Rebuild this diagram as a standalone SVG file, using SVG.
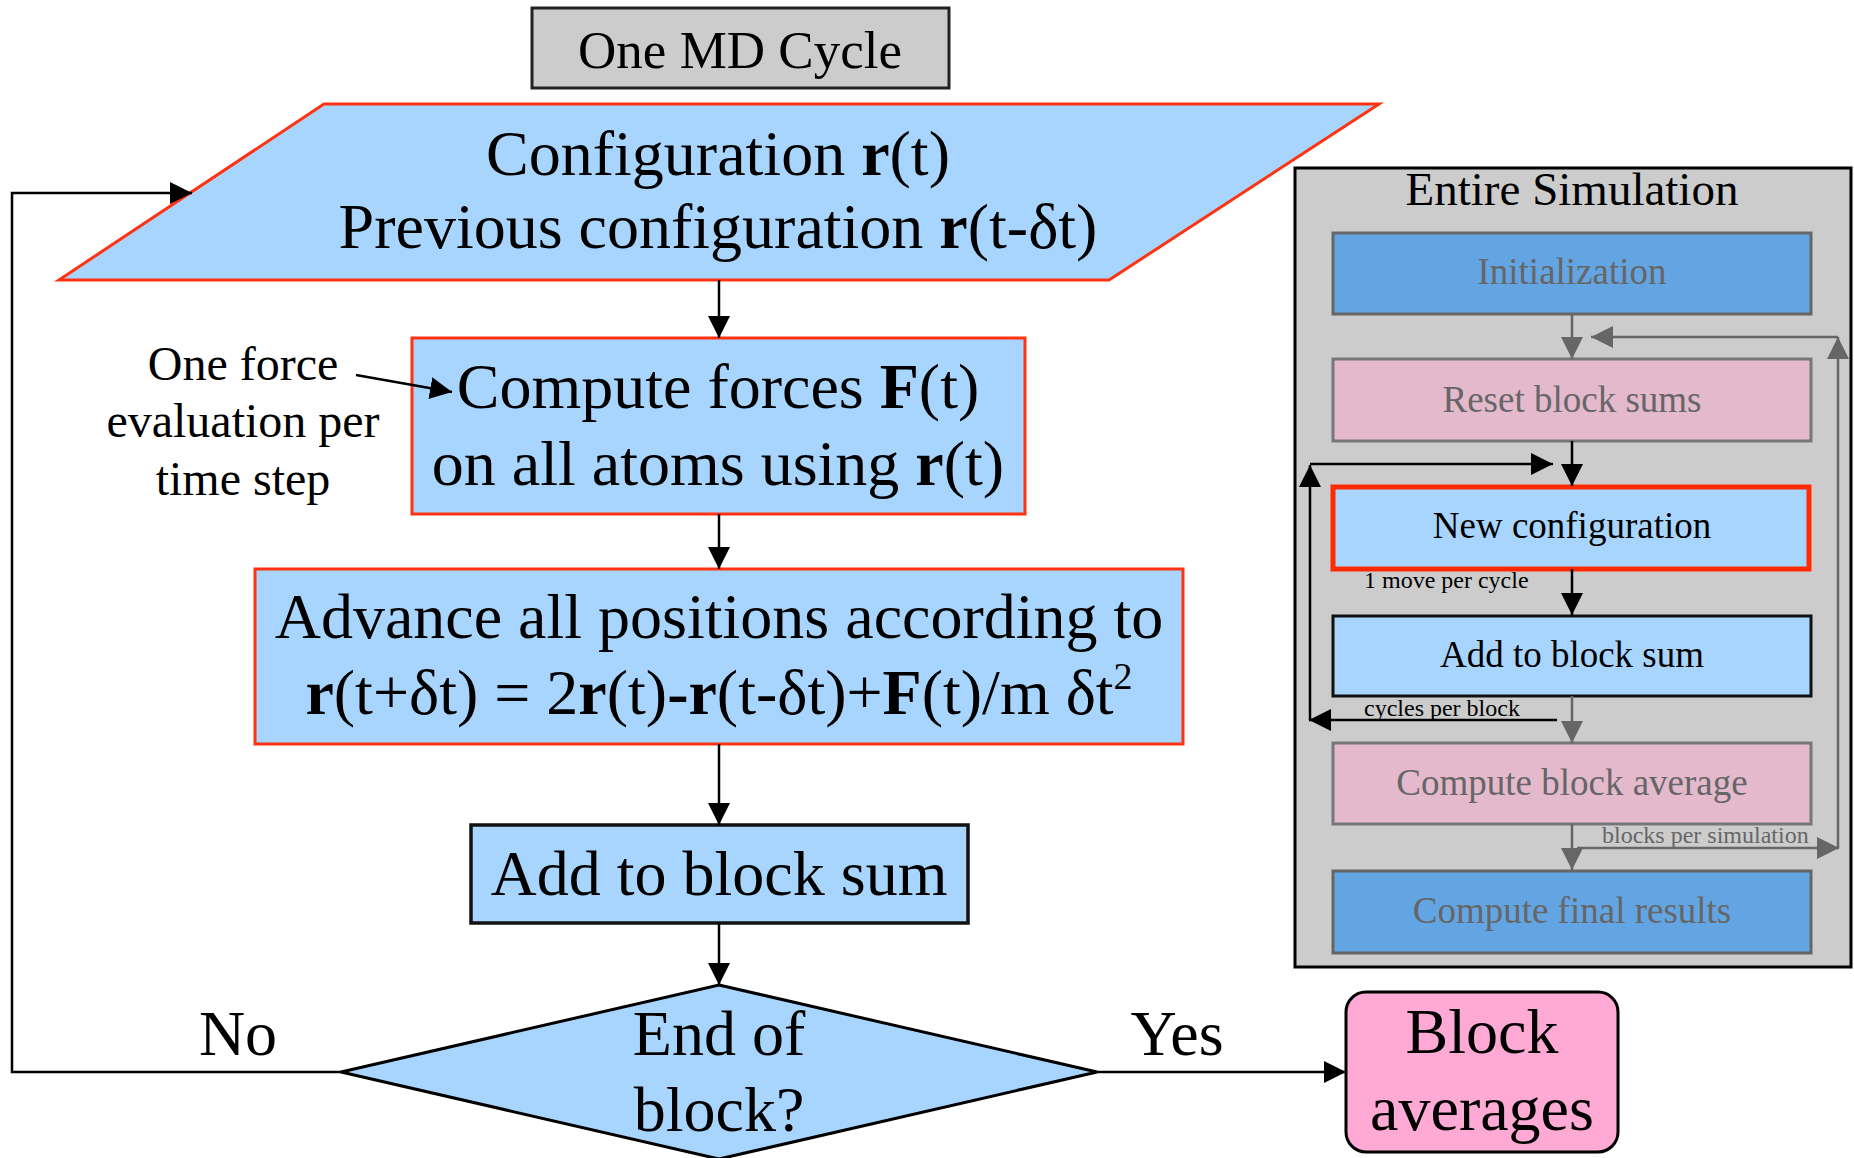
<svg xmlns="http://www.w3.org/2000/svg" width="1854" height="1158" viewBox="0 0 1854 1158">
  <style>
    text { font-family: "Liberation Serif", "Times New Roman", serif; fill: #000; }
    .big { font-size: 64px; text-anchor: middle; }
    .mid { font-size: 37px; text-anchor: middle; }
    .small { font-size: 24px; }
    .grey { fill: #666; }
    .b { font-weight: bold; }
    .red { fill: #A8D5FE; stroke: #FF3311; stroke-width: 3; }
    .lb { fill: #A8D5FE; stroke: #111; stroke-width: 3.5; }
    .blu { fill: #63A4E3; stroke: #666; stroke-width: 3; }
    .pnk { fill: #E4B9CC; stroke: #777; stroke-width: 3; }
    .con { fill: none; stroke: #000; stroke-width: 2.5; }
    .gcon { fill: none; stroke: #666; stroke-width: 2.5; }
  </style>
  <defs>
    <marker id="ah" markerUnits="userSpaceOnUse" markerWidth="22" markerHeight="22" refX="22" refY="11" orient="auto">
      <path d="M0,0 L22,11 L0,22 z" fill="#000"/>
    </marker>
    <marker id="ahg" markerUnits="userSpaceOnUse" markerWidth="22" markerHeight="22" refX="22" refY="11" orient="auto">
      <path d="M0,0 L22,11 L0,22 z" fill="#666"/>
    </marker>
  </defs>

  <!-- MD cycle title -->
  <g id="title">
    <rect x="532" y="8" width="417" height="80" fill="#CCCCCC" stroke="#222" stroke-width="3"/>
    <text x="740" y="68" style="font-size:53px;text-anchor:middle">One MD Cycle</text>
  </g>

  <!-- entire simulation panel -->
  <g id="panel">
    <rect x="1295" y="168" width="556" height="799" fill="#CCCCCC" stroke="#000" stroke-width="3"/>
    <text x="1572" y="205" style="font-size:47px;text-anchor:middle">Entire Simulation</text>
  </g>

  <g id="config">
    <polygon class="red" points="324,104 1379,104 1109,280 59,280"/>
    <text class="big" x="718" y="175">Configuration <tspan class="b">r</tspan>(t)</text>
    <text class="big" x="718" y="248">Previous configuration <tspan class="b">r</tspan>(t-δt)</text>
  </g>

  <g id="forces">
    <rect class="red" x="412" y="338" width="613" height="176"/>
    <text class="big" x="718" y="408">Compute forces <tspan class="b">F</tspan>(t)</text>
    <text class="big" x="718" y="485">on all atoms using <tspan class="b">r</tspan>(t)</text>
  </g>

  <g id="note">
    <text style="font-size:48px;text-anchor:middle" x="243" y="380">One force</text>
    <text style="font-size:48px;text-anchor:middle" x="243" y="437">evaluation per</text>
    <text style="font-size:48px;text-anchor:middle" x="243" y="495">time step</text>
  </g>

  <g id="advance">
    <rect class="red" x="255" y="569" width="928" height="175"/>
    <text class="big" x="719" y="638">Advance all positions according to</text>
    <text class="big" x="719" y="714"><tspan class="b">r</tspan>(t+δt) = 2<tspan class="b">r</tspan>(t)<tspan class="b">-r</tspan>(t-δt)+<tspan class="b">F</tspan>(t)/m δt<tspan style="font-size:38px" dy="-25">2</tspan></text>
  </g>

  <g id="addsum">
    <rect class="lb" x="471" y="825" width="497" height="98"/>
    <text class="big" x="719" y="895">Add to block sum</text>
  </g>

  <g id="endblock">
    <polygon points="719,985 1097,1072 719,1159 341,1072" fill="#A8D5FE" stroke="#000" stroke-width="3"/>
    <text class="big" x="719" y="1055">End of</text>
    <text class="big" x="719" y="1131">block?</text>
  </g>

  <g id="averages">
    <rect x="1346" y="992" width="272" height="160" rx="20" fill="#FFAAD5" stroke="#000" stroke-width="3"/>
    <text class="big" x="1482" y="1053">Block</text>
    <text class="big" x="1482" y="1130">averages</text>
  </g>

  <g id="init">
    <rect class="blu" x="1333" y="233" width="478" height="81"/>
    <text class="mid grey" x="1572" y="284">Initialization</text>
  </g>
  <g id="reset">
    <rect class="pnk" x="1333" y="359" width="478" height="82"/>
    <text class="mid grey" x="1572" y="412">Reset block sums</text>
  </g>
  <g id="newconf">
    <rect x="1333" y="487" width="476" height="82" fill="#A8D5FE" stroke="#FF2A00" stroke-width="5"/>
    <text class="mid" x="1572" y="538">New configuration</text>
  </g>
  <g id="addsum2">
    <rect class="lb" x="1333" y="616" width="478" height="80" style="stroke-width:3"/>
    <text class="mid" x="1572" y="667">Add to block sum</text>
  </g>
  <g id="blockavg">
    <rect class="pnk" x="1333" y="743" width="478" height="81"/>
    <text class="mid grey" x="1572" y="795">Compute block average</text>
  </g>
  <g id="final">
    <rect class="blu" x="1333" y="871" width="478" height="82"/>
    <text class="mid grey" x="1572" y="923">Compute final results</text>
  </g>

  <!-- edge labels -->
  <g id="labels">
    <text class="small" x="1364" y="588">1 move per cycle</text>
    <text class="small" x="1364" y="716">cycles per block</text>
    <text class="small grey" x="1602" y="843">blocks per simulation</text>
    <text class="big" x="238" y="1055">No</text>
    <text class="big" x="1177" y="1055">Yes</text>
  </g>

  <g id="connectors">
    <!-- main cycle -->
    <line class="con" x1="719" y1="280" x2="719" y2="338" marker-end="url(#ah)"/>
    <line class="con" x1="719" y1="514" x2="719" y2="569" marker-end="url(#ah)"/>
    <line class="con" x1="719" y1="744" x2="719" y2="825" marker-end="url(#ah)"/>
    <line class="con" x1="719" y1="923" x2="719" y2="985" marker-end="url(#ah)"/>
    <polyline class="con" points="341,1072 12,1072 12,193 192,193" marker-end="url(#ah)"/>
    <line class="con" x1="1097" y1="1072" x2="1346" y2="1072" marker-end="url(#ah)"/>
    <line class="con" x1="356" y1="375" x2="452" y2="392" marker-end="url(#ah)"/>
    <!-- simulation panel -->
    <line class="gcon" x1="1572" y1="314" x2="1572" y2="359" marker-end="url(#ahg)"/>
    <line class="gcon" x1="1838" y1="848" x2="1838" y2="337" marker-end="url(#ahg)"/>
    <line class="gcon" x1="1838" y1="337" x2="1591" y2="337" marker-end="url(#ahg)"/>
    <line class="con" x1="1572" y1="441" x2="1572" y2="486" marker-end="url(#ah)"/>
    <line class="con" x1="1557" y1="720" x2="1309" y2="720" marker-end="url(#ah)"/>
    <line class="con" x1="1310" y1="720" x2="1310" y2="465" marker-end="url(#ah)"/>
    <line class="con" x1="1310" y1="464" x2="1553" y2="464" marker-end="url(#ah)"/>
    <line class="con" x1="1572" y1="569" x2="1572" y2="615" marker-end="url(#ah)"/>
    <line class="gcon" x1="1572" y1="696" x2="1572" y2="743" marker-end="url(#ahg)"/>
    <line class="gcon" x1="1572" y1="824" x2="1572" y2="870" marker-end="url(#ahg)"/>
    <line class="gcon" x1="1577" y1="848" x2="1839" y2="848" marker-end="url(#ahg)"/>
  </g>
</svg>
